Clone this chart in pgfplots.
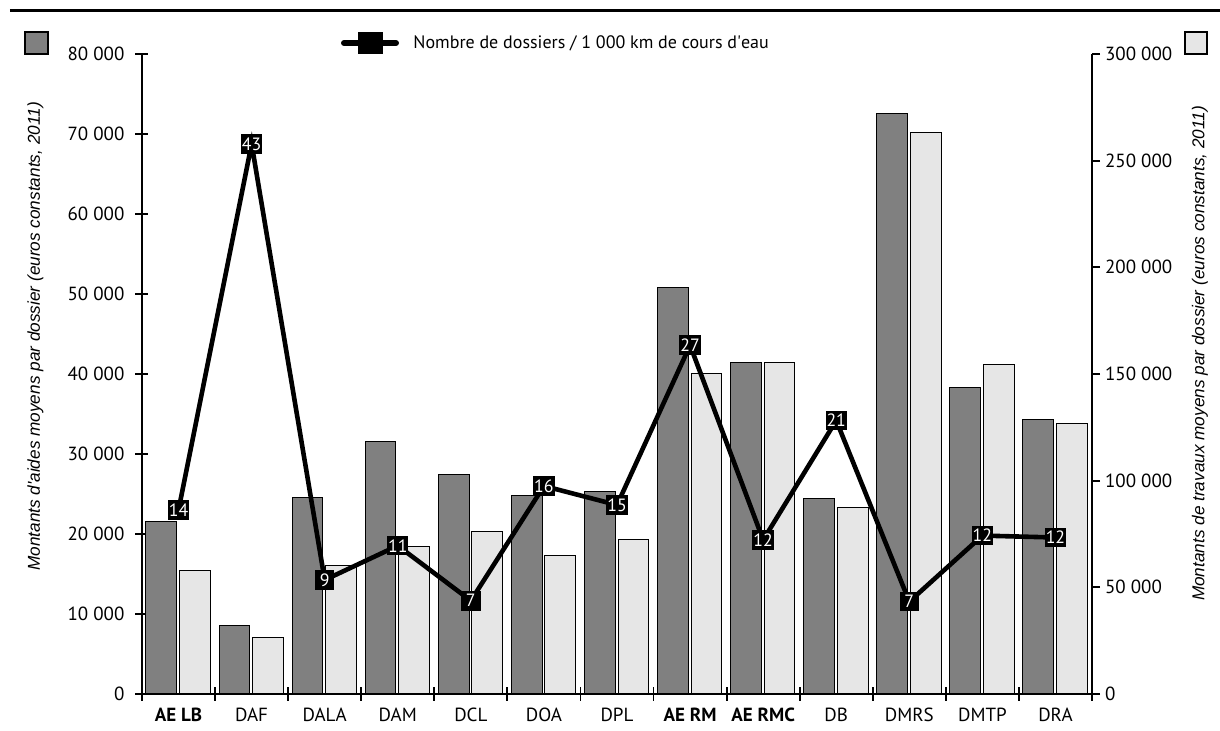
\documentclass[border=0pt]{standalone}
\usepackage{fontspec}
\setmainfont{PT Sans}
\newfontfamily\labfont{Liberation Sans}
\usepackage{pgfplots}
\pgfplotsset{compat=1.18}
\definecolor{darkbar}{gray}{0.5}
\definecolor{lightbar}{RGB}{230,230,230}

\pgfplotstableread{
x dark light line label
0  21600  57700  23000 14
1   8500  26250  68750 43
2  24600  60000  14250 9
3  31500  69000  18540 11
4  27450  76200  11660 7
5  24800  65000  26000 16
6  25350  72200  23625 15
7  50800 150300  43590 27
8  41400 155200  19250 12
9  24400  87400  34190 21
10 72500 263200  11550 7
11 38350 154400  19800 12
12 34350 127000  19560 12
}\datatable

\begin{document}
\begin{tikzpicture}[font=\fontsize{9}{10}\selectfont]
\useasboundingbox (-71pt,-18.5pt) rectangle (539pt,347pt);
% right axis: light bars
\begin{axis}[
  scale only axis, width=475pt, height=320pt,
  xmin=-0.5, xmax=12.5, ymin=0, ymax=300000,
  axis x line=none, axis y line*=right,
  scaled y ticks=false,
  ytick={0,50000,...,300000},
  yticklabels={0,50 000,100 000,150 000,200 000,250 000,300 000},
  tick align=outside, major tick length=4pt,
  axis line style={line width=0.9pt},
  every tick/.style={black, line width=0.9pt},
  yticklabel style={font=\fontsize{9.5}{10}\selectfont, xshift=-1pt},
]
\addplot[ybar, bar width=15.4pt, bar shift=8.2pt, fill=lightbar, draw=black, line width=0.5pt] table[x=x, y=light] {\datatable};
\end{axis}
% left axis: dark bars and line
\begin{axis}[
  scale only axis, width=475pt, height=320pt,
  xmin=-0.5, xmax=12.5, ymin=0, ymax=80000,
  axis x line*=bottom, axis y line*=left,
  scaled y ticks=false,
  xtick={0,...,12},
  xticklabels={\textbf{AE LB},DAF,DALA,DAM,DCL,DOA,DPL,\textbf{AE RM},\textbf{AE RMC},DB,DMRS,DMTP,DRA},
  minor xtick={-0.5,0.5,...,12.5},
  major x tick style={draw=none},
  minor tick length=7pt,
  ytick={0,10000,...,80000},
  yticklabels={0,10 000,20 000,30 000,40 000,50 000,60 000,70 000,80 000},
  tick align=center, major tick length=6.5pt,
  axis line style={line width=0.9pt},
  every tick/.style={black, line width=0.9pt},
  ticklabel style={font=\fontsize{9.5}{10}\selectfont},
  yticklabel style={xshift=-2pt},
]
\addplot[ybar, bar width=15.4pt, bar shift=-8.6pt, fill=darkbar, draw=black, line width=0.5pt] table[x=x, y=dark] {\datatable};
\addplot[black, line width=2.3pt, mark=none,
  nodes near coords, point meta=explicit symbolic,
  every node near coord/.style={anchor=center, fill=black, text=white, inner sep=0.5pt, minimum size=9.8pt, font=\fontsize{8.9}{10}\selectfont}]
  table[x=x, y=line, meta=label] {\datatable};
\end{axis}
% decorations and legend
\draw[line width=1.5pt] (-66pt,341.5pt) -- (539pt,341.5pt);
\draw[line width=0.6pt, fill=darkbar] (-58.5pt,320pt) rectangle (-47pt,331pt);
\draw[line width=0.6pt, fill=lightbar] (521.5pt,320pt) rectangle (532.5pt,331pt);
\draw[line width=3pt, line cap=round] (101pt,325.5pt) -- (127pt,325.5pt);
\fill (108pt,320pt) rectangle (120.5pt,331pt);
\node[anchor=west, inner sep=0pt] at (135.5pt,325.5pt) {Nombre de dossiers / 1 000 km de cours d\textquotesingle eau};
\node[rotate=90, inner sep=0pt, font=\labfont\itshape\fontsize{8.6}{10}\selectfont] at (-53.25pt,178.75pt) {Montants d\textquotesingle aides moyens par dossier (euros constants, 2011)};
\node[rotate=90, inner sep=0pt, font=\labfont\itshape\fontsize{8.6}{10}\selectfont] at (529pt,170.25pt) {Montants de travaux moyens par dossier (euros constants, 2011)};
\end{tikzpicture}
\end{document}
